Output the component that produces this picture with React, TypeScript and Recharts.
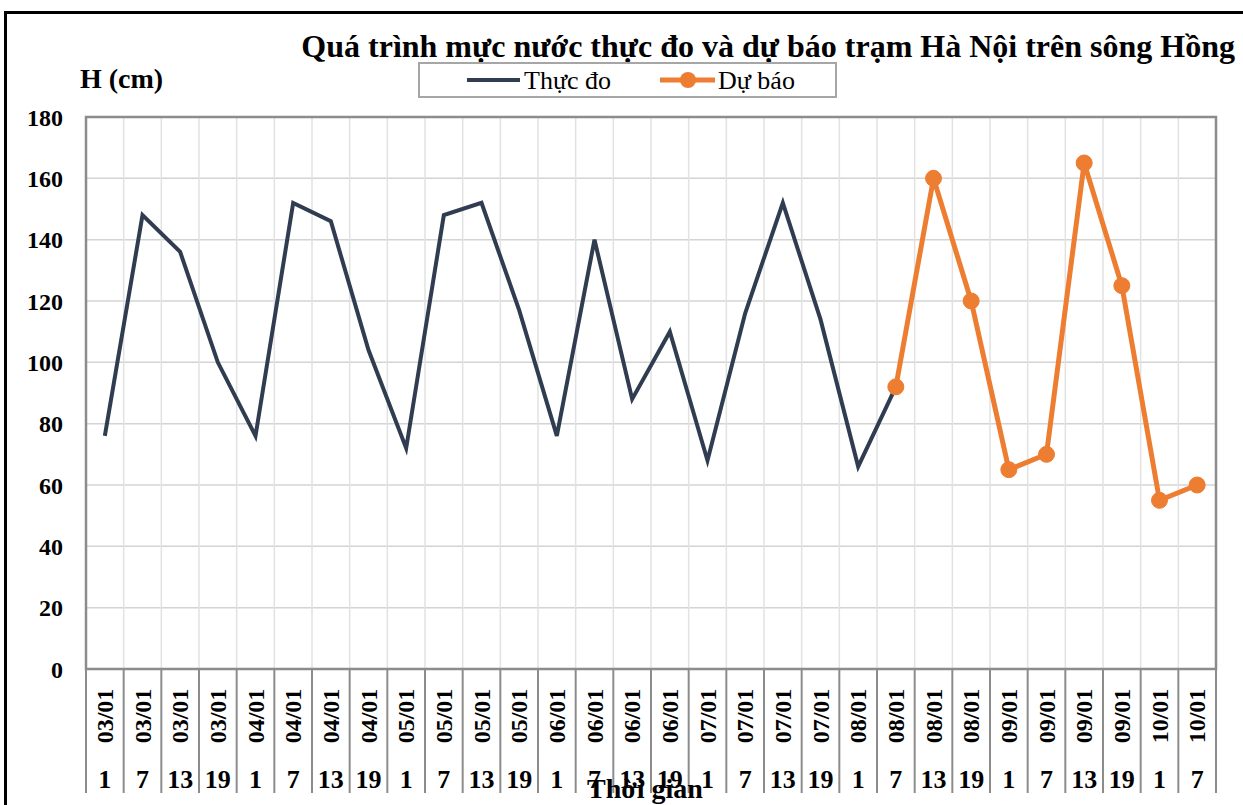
import {
  LineChart,
  Line,
  XAxis,
  YAxis,
  CartesianGrid,
  ReferenceArea,
} from 'recharts'

const DATES = [
  '03/01', '03/01', '03/01', '03/01',
  '04/01', '04/01', '04/01', '04/01',
  '05/01', '05/01', '05/01', '05/01',
  '06/01', '06/01', '06/01', '06/01',
  '07/01', '07/01', '07/01', '07/01',
  '08/01', '08/01', '08/01', '08/01',
  '09/01', '09/01', '09/01', '09/01',
  '10/01', '10/01',
]
const HOURS = [1, 7, 13, 19, 1, 7, 13, 19, 1, 7, 13, 19, 1, 7, 13, 19, 1, 7, 13, 19, 1, 7, 13, 19, 1, 7, 13, 19, 1, 7]

// Thực đo (observed), ends where the forecast starts
const ACTUAL = [
  76, 148, 136, 100, 76, 152, 146, 104, 72, 148, 152, 117,
  76, 140, 88, 110, 68, 116, 152, 114, 66, 92,
  null, null, null, null, null, null, null, null,
]
// Dự báo (forecast)
const FORECAST = [
  null, null, null, null, null, null, null, null, null, null, null, null,
  null, null, null, null, null, null, null, null, null,
  92, 160, 120, 65, 70, 165, 125, 55, 60,
]
const Y_TICKS = [0, 20, 40, 60, 80, 100, 120, 140, 160, 180]

const DATA = DATES.map((date, i) => ({
  key: `${date}|${HOURS[i]}`,
  date,
  hour: HOURS[i],
  actual: ACTUAL[i],
  forecast: FORECAST[i],
}))

const W = 1243
const H = 805
const MARGIN = { top: 117, right: 27, bottom: 0, left: 0 }
const Y_W = 86
const X_H = 136
const BAND = (W - MARGIN.left - MARGIN.right - Y_W) / DATA.length

const SERIF = '"Liberation Serif", "Times New Roman", serif'
const DARK = '#303D51'
const ORANGE = '#ED7D31'

function XTick(props: any) {
  const { x, y, index } = props
  const row = DATA[index]
  if (!row) return null
  const last = index === DATA.length - 1
  return (
    <g>
      <line x1={x - BAND / 2} y1={y} x2={x - BAND / 2} y2={y + 124} stroke="#8c8c8c" strokeWidth={2} />
      {last && (
        <line x1={x + BAND / 2} y1={y} x2={x + BAND / 2} y2={y + 124} stroke="#8c8c8c" strokeWidth={2} />
      )}
      <text
        x={0}
        y={0}
        transform={`translate(${x},${y + 47}) rotate(-90)`}
        textAnchor="middle"
        dominantBaseline="central"
        fontFamily={SERIF}
        fontWeight="bold"
        fontSize={24}
        fill="#000"
      >
        {row.date}
      </text>
      <text
        x={x}
        y={y + 110}
        textAnchor="middle"
        dominantBaseline="central"
        fontFamily={SERIF}
        fontWeight="bold"
        fontSize={26}
        fill="#000"
      >
        {row.hour}
      </text>
    </g>
  )
}

export default function App() {
  return (
    <div
      style={{
        position: 'fixed',
        left: 0,
        top: 0,
        width: W,
        height: H,
        overflow: 'hidden',
        background: '#fff',
        fontFamily: SERIF,
      }}
    >
      <div
        style={{
          position: 'absolute',
          left: 4,
          top: 11,
          width: W + 20,
          height: H + 20,
          border: '3px solid #000',
        }}
      />
      <LineChart width={W} height={H} data={DATA} margin={MARGIN}>
        <CartesianGrid horizontal vertical={false} stroke="#d4d4d4" strokeWidth={1.5} />
        <CartesianGrid
          horizontal={false}
          stroke="#e2e2e2"
          strokeWidth={1.5}
          verticalCoordinatesGenerator={({ offset }: any) =>
            DATA.slice(1).map((_, i) => offset.left + ((i + 1) * offset.width) / DATA.length)
          }
        />
        <XAxis
          dataKey="key"
          scale="band"
          interval={0}
          height={X_H}
          tickSize={0}
          tickMargin={0}
          tickLine={false}
          axisLine={false}
          tick={<XTick />}
        />
        <YAxis
          width={Y_W}
          domain={[0, 180]}
          ticks={Y_TICKS}
          interval={0}
          tickSize={0}
          tickMargin={23}
          tickLine={false}
          axisLine={false}
          tick={{ fontFamily: SERIF, fontWeight: 'bold', fontSize: 24, fill: '#000' }}
        />
        <ReferenceArea y1={0} y2={180} fill="none" stroke="#8c8c8c" strokeWidth={2.5} ifOverflow="visible" />
        <Line
          dataKey="actual"
          stroke={DARK}
          strokeWidth={4}
          dot={false}
          activeDot={false}
          connectNulls={false}
          strokeLinejoin="miter"
          isAnimationActive={false}
        />
        <Line
          dataKey="forecast"
          stroke={ORANGE}
          strokeWidth={5}
          dot={{ r: 8, fill: ORANGE, stroke: ORANGE, strokeWidth: 1 }}
          activeDot={false}
          connectNulls={false}
          isAnimationActive={false}
        />
      </LineChart>
      <svg
        width={W}
        height={H}
        style={{ position: 'absolute', left: 0, top: 0, pointerEvents: 'none' }}
      >
        <text x={1235} y={57} textAnchor="end" fontFamily={SERIF} fontWeight="bold" fontSize={32} fill="#000">
          Quá trình mực nước thực đo và dự báo trạm Hà Nội trên sông Hồng
        </text>
        <text x={80} y={88} fontFamily={SERIF} fontWeight="bold" fontSize={28} fill="#000">
          H (cm)
        </text>
        <rect x={419} y={63} width={417} height={34} fill="#fff" stroke="#a6a6a6" strokeWidth={2} />
        <line x1={467} y1={80} x2={520} y2={80} stroke={DARK} strokeWidth={4} />
        <text x={524} y={89} fontFamily={SERIF} fontSize={26} fill="#000">
          Thực đo
        </text>
        <line x1={660} y1={80} x2={715} y2={80} stroke={ORANGE} strokeWidth={5} />
        <circle cx={688} cy={80} r={8} fill={ORANGE} />
        <text x={718} y={89} fontFamily={SERIF} fontSize={26} fill="#000">
          Dự báo
        </text>
        <text x={645} y={798} textAnchor="middle" fontFamily={SERIF} fontWeight="bold" fontSize={28} fill="#000">
          Thời gian
        </text>
      </svg>
    </div>
  )
}
